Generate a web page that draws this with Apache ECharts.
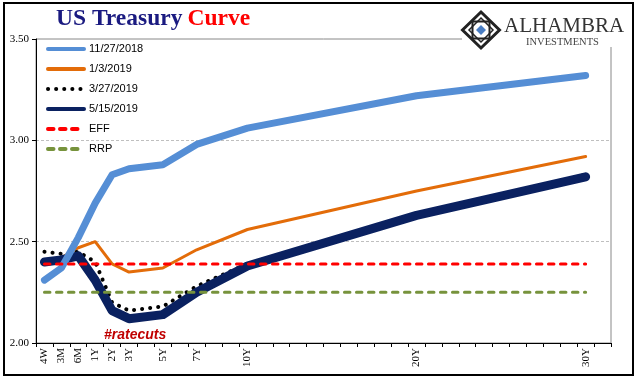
<!DOCTYPE html>
<html>
<head>
<meta charset="utf-8">
<script src="https://cdn.jsdelivr.net/npm/echarts@6/dist/echarts.min.js"></script>
<style>html,body{margin:0;padding:0;background:#fff;}#chart{width:641px;height:381px;}</style>
</head>
<body>
<div id="chart"></div>
<script>
// Category slots on the maturity axis (blank slots keep the spacing)
const categories = ['4W','3M','6M','1Y','2Y','3Y','','5Y','','7Y','','','10Y',
  '','','','','','','','','','20Y','','','','','','','','','','30Y',''];
const tenors = ['4W','3M','6M','1Y','2Y','3Y','5Y','7Y','10Y','20Y','30Y'];
const curve20181127 = [2.31, 2.37, 2.52, 2.69, 2.83, 2.86, 2.88, 2.98, 3.06, 3.22, 3.32];
const curve20190103 = [2.40, 2.42, 2.47, 2.50, 2.39, 2.35, 2.37, 2.46, 2.56, 2.75, 2.92];
const curve20190327 = [2.45, 2.44, 2.45, 2.40, 2.20, 2.16, 2.18, 2.28, 2.39, 2.63, 2.83];
const curve20190515 = [2.40, 2.41, 2.43, 2.31, 2.16, 2.12, 2.14, 2.25, 2.38, 2.63, 2.82];
const effRate = [2.39, 2.39, 2.39, 2.39, 2.39, 2.39, 2.39, 2.39, 2.39, 2.39, 2.39];
const rrpRate = [2.25, 2.25, 2.25, 2.25, 2.25, 2.25, 2.25, 2.25, 2.25, 2.25, 2.25];
const seriesNames = ['11/27/2018','1/3/2019','3/27/2019','5/15/2019','EFF','RRP'];
const yTicks = [2.00, 2.50, 3.00, 3.50];

function toSlots(vals) {
  return categories.map(c => { const i = tenors.indexOf(c); return i >= 0 ? vals[i] : null; });
}

const chart = echarts.init(document.getElementById('chart'), null, {renderer: 'canvas'});
const serif = 'Liberation Serif, Times New Roman, serif';
const sans = 'Liberation Sans, Arial, sans-serif';

const base = {type: 'line', symbol: 'none', connectNulls: true, animation: false, smooth: false};

chart.setOption({
  backgroundColor: '#fff',
  animation: false,
  title: {
    text: '{a|US Treasury} {b|Curve}',
    left: 56, top: 7, padding: 0,
    textStyle: {
      rich: {
        a: {fontFamily: serif, fontSize: 23.5, color: '#1A1A80'},
        b: {fontFamily: serif, fontSize: 23.5, fontWeight: 'bold', color: '#FF0000'}
      }
    }
  },
  legend: {
    orient: 'vertical', left: 46, top: 43.4, padding: 0,
    itemWidth: 36, itemHeight: 14, itemGap: 8.8,
    data: seriesNames,
    textStyle: {fontFamily: sans, fontSize: 11, color: '#000'},
    lineStyle: {width: 4},
    itemStyle: {opacity: 0}
  },
  grid: {left: 36, right: 30, top: 39, bottom: 38, show: true, borderColor: '#888', borderWidth: 1, backgroundColor: 'transparent'},
  xAxis: {
    type: 'category', data: categories, boundaryGap: true,
    axisLine: {lineStyle: {color: '#000', width: 1}},
    axisTick: {show: true, interval: 0, length: 4, lineStyle: {color: '#000'}},
    axisLabel: {interval: 0, rotate: 90, margin: 5, fontFamily: serif, fontSize: 11, color: '#000'},
    splitLine: {show: false}
  },
  yAxis: {
    type: 'value', min: yTicks[0], max: yTicks[yTicks.length - 1], interval: 0.5,
    axisLine: {show: true, lineStyle: {color: '#000', width: 1}},
    axisTick: {show: true, length: 4, lineStyle: {color: '#000'}},
    axisLabel: {margin: 7, fontFamily: serif, fontSize: 11, color: '#000', formatter: v => v.toFixed(2)},
    splitLine: {show: true, showMinLine: false, showMaxLine: false, lineStyle: {color: '#BFBFBF', type: [3, 2], width: 1}}
  },
  series: [
    Object.assign({}, base, {name: seriesNames[0], data: toSlots(curve20181127), z: 4,
      lineStyle: {color: '#558ED5', width: 7, cap: 'round', join: 'round'}, itemStyle: {color: '#558ED5'}}),
    Object.assign({}, base, {name: seriesNames[1], data: toSlots(curve20190103), z: 2,
      lineStyle: {color: '#E36C09', width: 3, cap: 'round', join: 'round'}, itemStyle: {color: '#E36C09'}}),
    Object.assign({}, base, {name: seriesNames[2], data: toSlots(curve20190327), z: 2,
      lineStyle: {color: '#000', width: 4, type: [0.1, 8], cap: 'round', join: 'round'}, itemStyle: {color: '#000'}}),
    Object.assign({}, base, {name: seriesNames[3], data: toSlots(curve20190515), z: 3,
      lineStyle: {color: '#0A2160', width: 9, cap: 'round', join: 'round'}, itemStyle: {color: '#0A2160'}}),
    Object.assign({}, base, {name: seriesNames[4], data: toSlots(effRate), z: 5,
      lineStyle: {color: '#FF0000', width: 3, type: [5.5, 6.5], cap: 'round'}, itemStyle: {color: '#FF0000'}}),
    Object.assign({}, base, {name: seriesNames[5], data: toSlots(rrpRate), z: 5,
      lineStyle: {color: '#77933C', width: 3, type: [5.5, 6.5], cap: 'round'}, itemStyle: {color: '#77933C'}})
  ],
  graphic: [
    {type: 'text', left: 104, top: 328, z: 50,
      style: {text: '#ratecuts', fill: '#C00000', font: 'italic bold 14px ' + sans}},
    {type: 'rect', z: 100, shape: {x: 462, y: 5, width: 168, height: 42}, style: {fill: '#fff'}},
    {type: 'polygon', z: 101, shape: {points: [[481,12],[499.5,30],[481,48],[462.5,30]]}, style: {fill: 'none', stroke: '#222', lineWidth: 3}},
    {type: 'polygon', z: 101, shape: {points: [[472.5,21.5],[489.5,21.5],[489.5,38.5],[472.5,38.5]]}, style: {fill: 'none', stroke: '#222', lineWidth: 2}},
    {type: 'polygon', z: 101, shape: {points: [[481,18],[493,30],[481,42],[469,30]]}, style: {fill: 'none', stroke: '#222', lineWidth: 1.5}},
    {type: 'polygon', z: 102, shape: {points: [[481,25],[486,30],[481,35],[476,30]]}, style: {fill: '#4A7EC4'}},
    {type: 'text', z: 101, left: 504, top: 16, style: {text: 'ALHAMBRA', fill: '#333', font: '21px ' + serif}},
    {type: 'text', z: 101, left: 526, top: 37, style: {text: 'INVESTMENTS', fill: '#444', font: '10.5px ' + serif}},
    {type: 'rect', z: 120, shape: {x: 4, y: 3, width: 629, height: 372}, style: {fill: 'none', stroke: '#000', lineWidth: 2}}
  ]
});
</script>
</body>
</html>
